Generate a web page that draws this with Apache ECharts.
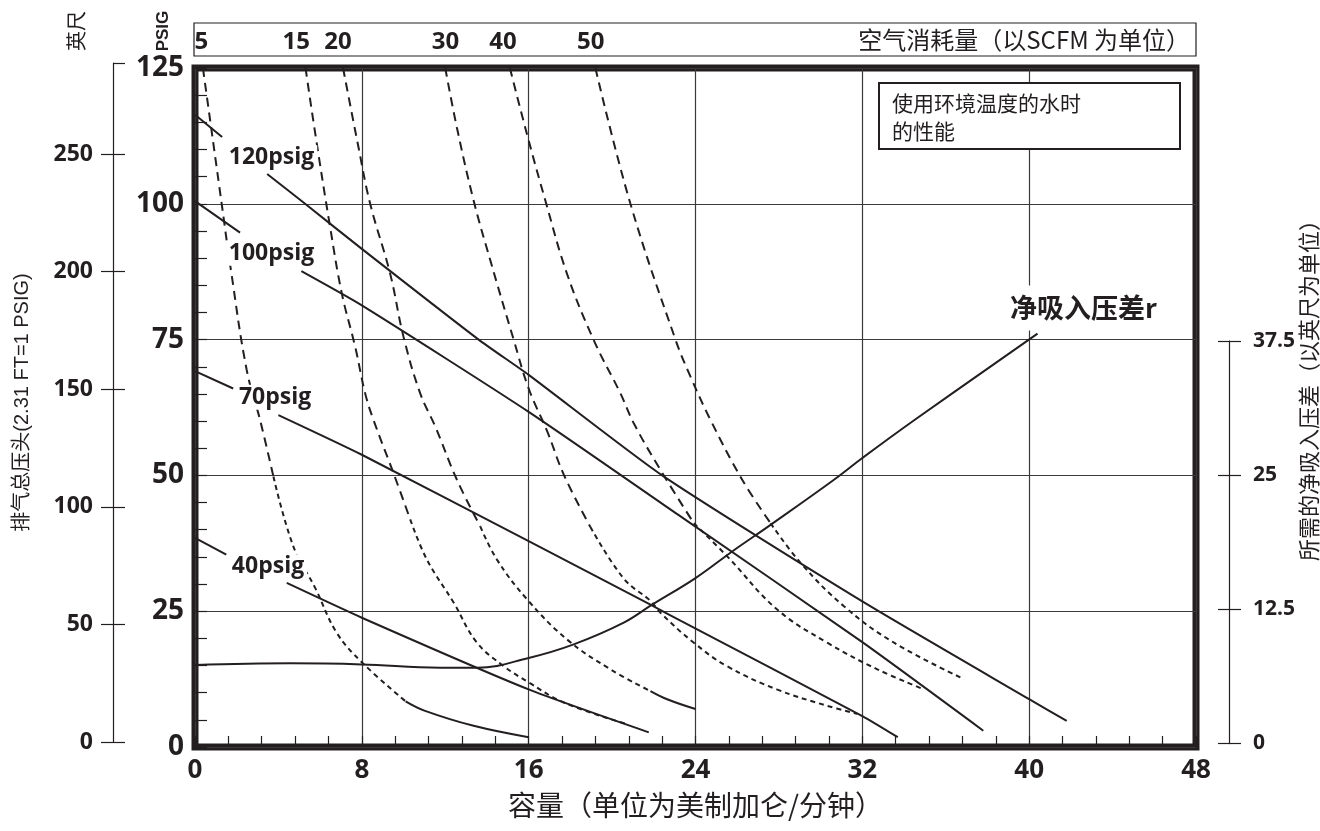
<!DOCTYPE html>
<html>
<head>
<meta charset="utf-8">
<title>泵性能曲线</title>
<script src="https://cdn.jsdelivr.net/npm/echarts@6/dist/echarts.min.js"></script>
<style>
    html, body { margin: 0; padding: 0; background: #fff; }
    #chart { width: 1320px; height: 831px; }
</style>
</head>
<body>
<div id="chart"></div>
<script>
// 坐标轴刻度
var feetTicks = [0, 50, 100, 150, 200, 250];
var feetMax = 288.75;           // 125 psig * 2.31
var npshMax = 37.5;

// 空气消耗量 (SCFM) 标签, 以及它们在顶部框里的位置 (加仑/分钟)
var scfmLabels = ['5', '15', '20', '30', '40', '50'];
var scfmAt = [0.35, 4.9, 6.9, 12.05, 14.8, 19.0];

// 压力曲线 [容量, psig], null = 标签处的断开
var p120 = [[0, 116.4], [1.3, 112.3], null, [3.46, 105.5], [5.28, 100], [8, 91.7], [13.6, 75], [16, 68.5], [22.4, 50], [32, 26.8], [40, 8.8], [41.8, 4.8]];
var p100 = [[0, 100.5], [2.16, 94.7], null, [5.1, 87.6], [8, 81.3], [16, 61.7], [23.3, 42.4], [32, 19.3], [37.8, 3.0]];
var p70 = [[0, 69.2], [1.83, 66.0], null, [4.0, 61.1], [8, 53.8], [16, 37.9], [21.84, 26.2], [23.3, 23.2], [32, 5.7], [33.7, 1.8]];
var p40 = [[0, 38.5], [1.5, 35.4], null, [4.4, 30.2], [8, 23.8], [16, 10.6], [21.76, 2.7]];

var pressureLabels = ['120psig', '100psig', '70psig', '40psig'];
var pressureLabelAt = [[3.67, 108.5], [3.67, 90.9], [3.84, 64.4], [3.5, 33.2]];

// 净吸入压差 [容量, 英尺]
var npsh = [[0, 7.55], [4.56, 7.7], [8, 7.6], [11.76, 7.3], [13.52, 7.3], [16, 8.2], [18.16, 9.45], [20.56, 11.45], [21.92, 13.1], [24, 15.55], [25.76, 18.0], [27.6, 20.45], [30.64, 24.6], [32, 26.6], [34.5, 30.1], [40.4, 38.05]];
var npshLabel = '净吸入压差r';
var npshLabelAt = [42.6, 80.8];

// 空气消耗量曲线 [容量, psig]
var scfm5 = [[0.38, 125], [1.28, 100], [1.73, 87.6], [2.48, 69.4], [3.12, 60.2], [3.76, 49.8], [4.72, 36.9], [5.76, 29.3], [6.8, 21.0], [8.0, 15.6], [10.1, 8.4]];
var scfm5Tail = [[10.1, 8.4], [11.0, 6.7], [13.36, 3.9], [16, 1.8]];
var scfm15 = [[5.3, 125], [5.76, 113.1], [6.48, 95.7], [7.04, 83.5], [7.68, 73.7], [8.16, 65.1], [8.56, 60.2], [9.52, 50.4], [10.32, 41.9], [11.12, 34.5], [12.4, 26.6], [13.52, 19.2], [14.8, 14.9], [16, 11.9], [17.68, 8.2], [20.72, 4.2]];
var scfm20 = [[7.1, 125], [7.84, 110.4], [8.4, 100], [9.36, 87.1], [10.0, 75.5], [10.8, 65.1], [11.52, 59], [12.56, 49.2], [13.68, 40.6], [14.48, 34.5], [15.92, 27.2], [17.84, 19.8], [19.92, 14.3], [21.84, 10.3]];
var scfm20Tail = [[21.84, 10.3], [22.64, 8.8], [24, 7.0]];
var scfm30 = [[12.0, 125], [12.56, 114], [13.36, 100.6], [14.16, 89.6], [15.28, 75], [16.0, 66], [16.9, 58], [17.7, 50], [18.96, 40.5], [20.56, 31], [21.84, 26.9], [22.32, 24.7], [23.92, 19.2], [25.5, 14.9], [27.9, 10.6], [30.3, 7.6], [31.76, 6.1]];
var scfm40 = [[15.1, 125], [15.92, 112.8], [16.8, 100.6], [17.84, 87.1], [19.12, 74.9], [20.4, 65.1], [21.04, 59.6], [22.32, 51], [23.92, 41.2], [25.52, 35.1], [27.92, 25.3], [30.32, 19.2], [32.72, 14.3], [34.96, 10.6]];
var scfm50 = [[19.2, 125], [20.88, 100], [23.04, 75], [23.76, 68.2], [24.72, 60.2], [26.24, 49.2], [27.6, 41.2], [29.04, 33.9], [31.12, 25.9], [33.52, 19.2], [36.88, 12.5]];

var ink = '#231f20';
var numFont = '"Open Sans", sans-serif';
var cjkFont = '"Noto Sans CJK SC", sans-serif';

function solid(data, yIdx, smooth) {
    return {
        type: 'line', xAxisIndex: 0, yAxisIndex: yIdx || 0, data: data,
        showSymbol: false, symbol: 'none', silent: true, z: 3,
        smooth: smooth || 0.3,
        lineStyle: {color: ink, width: 2}
    };
}

function dashed(data, pattern) {
    var s = solid(data, 0, 0.4);
    s.lineStyle = {color: ink, width: 2, type: pattern};
    return s;
}

// 断开处拆成几段
function pressureSeries(arr) {
    var segs = [[]];
    arr.forEach(function (p) {
        if (p === null) segs.push([]);
        else segs[segs.length - 1].push(p);
    });
    return segs.map(function (s) { return solid(s, 0, 0.2); });
}

// 上段长虚线, 下段 (40 psig 以下) 短虚线
function scfmSeries(pts, tail) {
    var hi = [], lo = [];
    pts.forEach(function (p) {
        if (p[1] >= 40) hi.push(p);
        else {
            if (!lo.length && hi.length) lo.push(hi[hi.length - 1]);
            lo.push(p);
        }
    });
    var out = [dashed(hi, [9, 6])];
    if (lo.length) out.push(dashed(lo, [5, 4]));
    if (tail) out.push(solid(tail, 0, 0.4));
    return out;
}

var series = []
    .concat(pressureSeries(p120), pressureSeries(p100), pressureSeries(p70), pressureSeries(p40))
    .concat(scfmSeries(scfm5, scfm5Tail), scfmSeries(scfm15), scfmSeries(scfm20, scfm20Tail),
            scfmSeries(scfm30), scfmSeries(scfm40), scfmSeries(scfm50));

series.push(solid(npsh, 1, 0.4));

series.push({
    type: 'scatter', xAxisIndex: 0, yAxisIndex: 0, symbolSize: 0, silent: true, z: 10,
    itemStyle: {opacity: 1},
    data: pressureLabels.map(function (t, i) { return {name: t, value: pressureLabelAt[i]}; }),
    label: {
        show: true, position: 'inside', formatter: '{b}',
        fontFamily: numFont, fontWeight: 'bold', fontSize: 23, color: ink,
        backgroundColor: '#fff', padding: [1, 3]
    }
});

series.push({
    type: 'scatter', xAxisIndex: 0, yAxisIndex: 0, symbolSize: 0, silent: true, z: 10,
    itemStyle: {opacity: 1},
    data: [{name: npshLabel, value: npshLabelAt}],
    label: {
        show: true, position: 'inside', formatter: '{b}',
        fontFamily: cjkFont, fontWeight: 'bold', fontSize: 27, color: ink,
        backgroundColor: '#fff', padding: [9, 3]
    }
});

var splitStyle = {show: true, lineStyle: {color: '#3a3a3a', width: 1.2}};
var tickStyle = {color: ink, width: 1.2};

var option = {
    animation: false,
    textStyle: {color: ink},
    title: {
        text: '使用环境温度的水时\n的性能',
        left: 879, top: 83,
        backgroundColor: '#fff', borderColor: ink, borderWidth: 2,
        padding: [6, 12, 4, 13],
        textStyle: {fontFamily: cjkFont, fontSize: 21, fontWeight: 'normal', lineHeight: 28, color: ink, width: 276}
    },
    grid: [
        {left: 195, right: 124, top: 68, bottom: 84, show: true, borderColor: ink, borderWidth: 7, outerBoundsMode: 'none'},
        {left: 194, right: 124, top: 23, height: 33, show: true, borderColor: ink, borderWidth: 1.2, outerBoundsMode: 'none'},
        {left: 113, width: 1, top: 63, bottom: 89, outerBoundsMode: 'none'},
        {left: 1229, width: 1, top: 341, bottom: 88, outerBoundsMode: 'none'}
    ],
    xAxis: [
        {
            gridIndex: 0, type: 'value', min: 0, max: 48, interval: 8,
            axisLine: {show: false},
            axisTick: {show: true, inside: true, length: 11, lineStyle: tickStyle},
            minorTick: {show: true, splitNumber: 5, length: 11, lineStyle: tickStyle},
            splitLine: splitStyle,
            axisLabel: {fontFamily: numFont, fontWeight: 'bold', fontSize: 26, color: ink, margin: 11},
            name: '容量（单位为美制加仑/分钟）', nameLocation: 'middle', nameGap: 44,
            nameTextStyle: {fontFamily: cjkFont, fontSize: 28, color: ink}
        },
        {
            gridIndex: 1, type: 'value', min: 0, max: 48,
            axisLine: {show: false}, axisTick: {show: false}, splitLine: {show: false},
            axisLabel: {
                inside: true, margin: 2, customValues: scfmAt,
                formatter: function (v) { return scfmLabels[scfmAt.indexOf(v)]; },
                fontFamily: numFont, fontWeight: 'bold', fontSize: 24, color: ink
            }
        },
        {gridIndex: 2, type: 'value', show: false},
        {gridIndex: 3, type: 'value', show: false}
    ],
    yAxis: [
        {
            gridIndex: 0, type: 'value', min: 0, max: 125, interval: 25,
            axisLine: {show: false},
            axisTick: {show: true, inside: true, length: 12, lineStyle: tickStyle},
            minorTick: {show: true, splitNumber: 5, length: 12, lineStyle: tickStyle},
            splitLine: splitStyle,
            axisLabel: {fontFamily: numFont, fontWeight: 'bold', fontSize: 28, color: ink, margin: 11}
        },
        {gridIndex: 0, type: 'value', min: 0, max: 62.5, show: false},
        {
            gridIndex: 2, type: 'value', min: 0, max: feetMax, position: 'left',
            axisLine: {show: true, lineStyle: tickStyle},
            axisTick: {show: true, length: 12, customValues: feetTicks, lineStyle: tickStyle},
            axisLabel: {customValues: feetTicks, margin: 20, fontFamily: numFont, fontWeight: 'bold', fontSize: 23, color: ink},
            splitLine: {show: false},
            name: '排气总压头(2.31 FT=1 PSIG)', nameLocation: 'middle', nameGap: 81,
            nameTextStyle: {fontFamily: '"Liberation Sans", "Noto Sans CJK SC", sans-serif', fontSize: 20, color: ink}
        },
        {
            gridIndex: 2, type: 'value', min: 0, max: feetMax, position: 'left',
            axisLine: {show: false},
            axisTick: {show: true, inside: true, length: 12, customValues: feetTicks.concat([feetMax]), lineStyle: tickStyle},
            axisLabel: {show: false}, splitLine: {show: false}
        },
        {
            gridIndex: 3, type: 'value', min: 0, max: npshMax, interval: 12.5, position: 'right',
            axisLine: {show: true, lineStyle: tickStyle},
            axisTick: {show: true, length: 12, lineStyle: tickStyle},
            axisLabel: {margin: 23, fontFamily: numFont, fontWeight: 'bold', fontSize: 21, color: ink},
            splitLine: {show: false}
        },
        {
            gridIndex: 3, type: 'value', min: 0, max: npshMax, interval: 12.5, position: 'right',
            axisLine: {show: false},
            axisTick: {show: true, inside: true, length: 12, lineStyle: tickStyle},
            axisLabel: {show: false}, splitLine: {show: false}
        },
        // 顶部框也需要一根 (隐藏的) y 轴
        {gridIndex: 1, type: 'value', show: false}
    ],
    graphic: [
        {type: 'text', x: 76, y: 31, rotation: Math.PI / 2,
         style: {text: '英尺', font: '20px "Noto Sans CJK SC"', fill: ink, align: 'center', verticalAlign: 'middle'}},
        {type: 'text', x: 163, y: 31, rotation: Math.PI / 2,
         style: {text: 'PSIG', font: 'bold 17px "Liberation Sans"', fill: ink, align: 'center', verticalAlign: 'middle'}},
        {type: 'text', x: 1190, y: 40, z: 20,
         style: {text: '空气消耗量（以SCFM 为单位）', font: '24px "Noto Sans CJK SC"', fill: ink, align: 'right', verticalAlign: 'middle'}},
        {type: 'text', x: 1309, y: 385, rotation: Math.PI / 2,
         style: {text: '所需的净吸入压差（以英尺为单位）', font: '22px "Noto Sans CJK SC"', fill: ink, align: 'center', verticalAlign: 'middle'}}
    ],
    series: series
};

var chart = echarts.init(document.getElementById('chart'));
chart.setOption(option);

window.addEventListener('resize', function () {
    chart.resize();
});
</script>
</body>
</html>
